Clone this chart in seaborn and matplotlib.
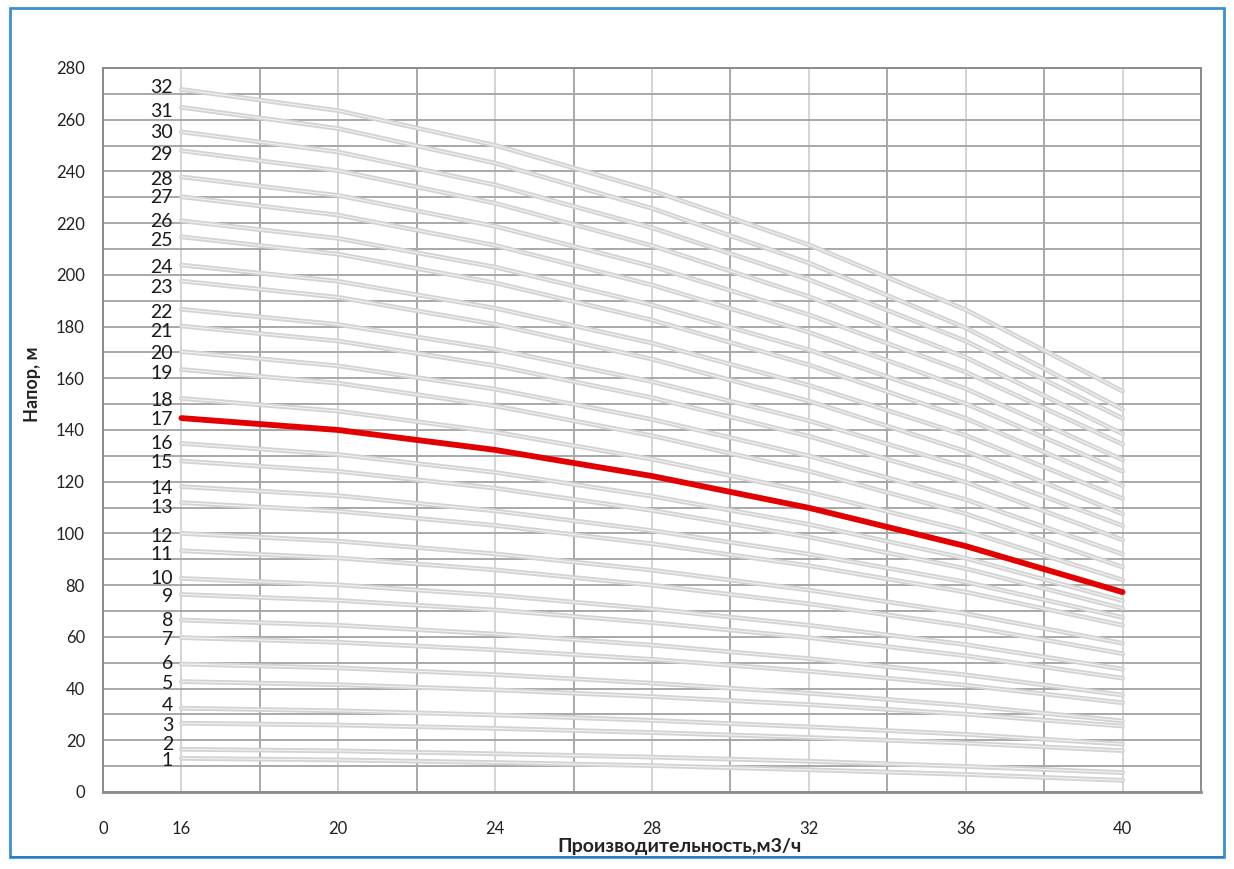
import numpy as np
import pandas as pd
import matplotlib
matplotlib.use("Agg")
import matplotlib.pyplot as plt
import seaborn as sns
from matplotlib.patches import Rectangle

# DATA: head (m) of each pump curve at each flow point (m3/h)
flow = [16, 20, 24, 28, 32, 36, 40]
stages = list(range(1, 33))
highlight = 17

head_q16 = [13.0, 16.5, 26.6, 32.4, 42.7, 49.5, 59.7, 66.5, 76.4, 82.6, 93.3, 100.0,
            111.9, 118.1, 128.0, 134.8, 144.6, 152.2, 163.4, 170.3, 180.2, 186.7,
            197.6, 203.8, 214.7, 220.9, 230.2, 237.9, 248.0, 255.3, 264.8, 271.7]
head_q20 = [12.4, 15.9, 25.9, 31.4, 41.5, 48.0, 57.9, 64.5, 74.1, 80.1, 90.5, 97.0,
            108.6, 114.6, 124.0, 130.5, 140.0, 147.3, 158.1, 164.8, 174.4, 180.8,
            191.3, 197.5, 208.0, 214.1, 223.1, 230.7, 240.3, 247.5, 256.6, 263.5]
head_q24 = [11.4, 14.8, 24.6, 29.8, 39.5, 45.4, 55.0, 61.1, 70.4, 76.1, 85.9, 92.1,
            103.1, 108.7, 117.5, 123.6, 132.3, 139.2, 149.3, 155.8, 164.9, 171.2,
            180.9, 187.1, 196.9, 203.0, 211.4, 218.8, 227.7, 234.8, 243.2, 250.1]
head_q28 = [10.2, 13.5, 23.0, 27.7, 36.9, 42.1, 51.3, 56.8, 65.5, 70.8, 80.0, 85.8,
            96.0, 101.1, 108.9, 114.4, 122.2, 128.7, 137.8, 144.1, 152.5, 158.7,
            167.4, 173.6, 182.5, 188.4, 196.1, 203.3, 211.3, 218.2, 225.7, 232.6]
head_q32 = [8.6, 11.9, 21.1, 25.2, 33.8, 38.2, 46.7, 51.6, 59.7, 64.5, 72.8, 78.1,
            87.5, 92.0, 98.6, 103.5, 109.9, 116.0, 124.1, 130.0, 137.6, 143.6,
            151.2, 157.3, 165.2, 171.0, 177.8, 184.6, 191.6, 198.2, 204.6, 211.6]
head_q36 = [6.8, 9.9, 18.9, 22.3, 30.1, 33.4, 41.3, 45.3, 52.7, 57.0, 64.2, 69.0,
            77.3, 81.2, 86.4, 90.4, 95.1, 101.0, 107.6, 113.1, 119.8, 125.6,
            131.8, 137.9, 144.5, 150.2, 156.0, 162.4, 168.1, 174.4, 179.5, 186.5]
head_q40 = [4.5, 7.5, 16.0, 18.5, 25.5, 27.5, 34.5, 37.5, 44.0, 47.5, 53.5, 57.5,
            64.5, 67.5, 71.0, 74.0, 77.3, 82.0, 87.0, 92.0, 97.5, 103.0,
            107.5, 113.5, 118.5, 124.0, 128.5, 134.5, 138.5, 144.5, 148.0, 155.0]

# heights where the curve numbers are written (spread a little to stay readable)
label_y = [12.0, 18.4, 25.6, 33.4, 42.0, 49.8, 58.8, 66.5, 75.5, 82.4, 91.9, 99.0,
           110.1, 117.2, 127.3, 134.8, 143.9, 151.6, 161.7, 169.7, 178.0, 185.4,
           195.0, 202.9, 213.1, 220.5, 230.0, 236.7, 246.7, 254.9, 263.1, 272.4]

x_tick_pos = [14, 16, 20, 24, 28, 32, 36, 40]
x_tick_labels = ["0", "16", "20", "24", "28", "32", "36", "40"]

columns = [head_q16, head_q20, head_q24, head_q28, head_q32, head_q36, head_q40]
rows = []
for q, col in zip(flow, columns):
    for s, h in zip(stages, col):
        rows.append({"flow": q, "head": h, "stage": s})
df = pd.DataFrame(rows)

# STYLE
sns.set_style("white")
plt.rcParams["font.family"] = ["Lato", "Open Sans", "DejaVu Sans"]

fig = plt.figure(figsize=(12.34, 8.69), dpi=100)
ax = fig.add_axes([103 / 1234, 1 - 792 / 869, 1098 / 1234, 724 / 869])

grey = df[df["stage"] != highlight]
red = df[df["stage"] == highlight]

sns.lineplot(data=grey, x="flow", y="head", units="stage", estimator=None,
             color="#d3d3d3", linewidth=3.4, solid_capstyle="round",
             solid_joinstyle="round", ax=ax)
sns.lineplot(data=grey, x="flow", y="head", units="stage", estimator=None,
             color="#f2f2f2", linewidth=0.8, solid_joinstyle="round", ax=ax)
sns.lineplot(data=red, x="flow", y="head", color="#e30000", linewidth=4.2,
             solid_capstyle="round", solid_joinstyle="round", ax=ax)

# curve numbers at the left end
for s, y in zip(stages, label_y):
    ax.annotate(str(s), xy=(flow[0], y), xytext=(-6, 0), textcoords="offset points",
                ha="right", va="center", fontsize=14, color="#1a1a1a")

# AXES
ax.set_xlim(14, 42)
ax.set_ylim(0, 280)
ax.xaxis.remove_overlapping_locs = False
ax.set_xticks(x_tick_pos)
ax.set_xticklabels(x_tick_labels)
ax.set_xticks(np.arange(14, 43, 4), minor=True)
ax.set_yticks(np.arange(0, 281, 20))
ax.set_yticks(np.arange(0, 281, 10), minor=True)

ax.tick_params(axis="x", which="major", length=0, pad=21, labelsize=12, colors="#222222")
ax.tick_params(axis="x", which="minor", length=7, width=1.2, color="#868686")
ax.tick_params(axis="y", which="major", length=7, width=1.2, color="#868686",
               labelsize=12, labelcolor="#222222", pad=6)
ax.tick_params(axis="y", which="minor", length=0)

ax.grid(True, axis="x", which="major", color="#d4d4d4", linewidth=1.4)
ax.grid(True, axis="x", which="minor", color="#a8a8a8", linewidth=1.4)
ax.grid(True, axis="y", which="both", color="#a8a8a8", linewidth=1.4)
ax.set_axisbelow(True)

for side in ["left", "bottom", "top", "right"]:
    ax.spines[side].set_color("#8c8c8c")
    ax.spines[side].set_linewidth(1.4)
ax.spines["bottom"].set_linewidth(2)

ax.set_xlabel("Производительность,м3/ч", fontsize=14, fontweight="bold", color="#222222")
ax.set_ylabel("Напор, м", fontsize=13, fontweight="bold", color="#222222")
ax.xaxis.set_label_coords(0.5255, -0.0746)
ax.xaxis.label.set_va("center")
ax.yaxis.set_label_coords(-0.064, 0.5635)
ax.yaxis.label.set_va("center")

# blue frame around the chart
fig.patches.append(Rectangle((10 / 1234, 1 - 857 / 869), 1214 / 1234, 849 / 869,
                             transform=fig.transFigure, fill=False,
                             edgecolor="#3b8fd8", linewidth=2))
fig.patches.append(Rectangle((10 / 1234, 1 - 858 / 869), 1214 / 1234, 2 / 869,
                             transform=fig.transFigure, facecolor="#2f7fc8",
                             edgecolor="none"))

fig.savefig("out.png", dpi=100)
